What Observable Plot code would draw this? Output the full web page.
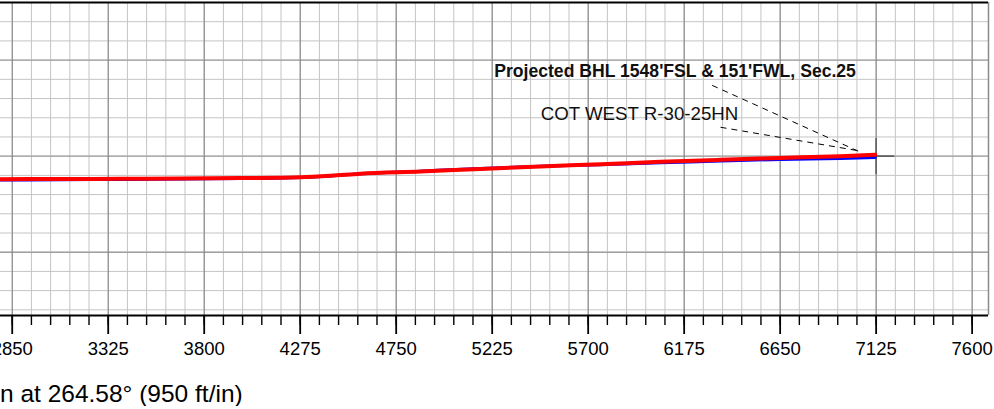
<!DOCTYPE html>
<html>
<head>
<meta charset="utf-8">
<script src="https://cdn.jsdelivr.net/npm/d3@7"></script>
<script src="https://cdn.jsdelivr.net/npm/@observablehq/plot@0.6"></script>
<style>
  html, body { margin: 0; padding: 0; background: #fff; overflow: hidden; }
  #chart svg { display: block; }
  #caption { font-family: "Liberation Sans", Arial, sans-serif; font-size: 24.5px; line-height: 24px; color: #000; margin-top: 12px; margin-left: 0px; white-space: nowrap; }
</style>
</head>
<body>
<div id="chart"></div>
<div id="caption">n at 264.58° (950 ft/in)</div>
<script>
// Vertical section (ft) along the well, and TVD (ft)
const sectionX = [2792, 3089, 3386, 3683, 3980, 4277, 4425, 4573, 4870, 5167, 5464, 5761, 6058, 6355, 6651, 6948, 7121];
const actualTVD = [9614, 9613, 9612, 9610, 9608, 9604, 9597, 9587, 9576, 9563, 9551, 9540, 9528, 9518, 9509, 9500, 9493];
const planTVD   = [9618, 9617, 9615, 9613, 9611, 9606, 9598, 9587, 9574, 9561, 9550, 9542, 9533, 9524, 9516, 9511, 9506];

// Target (projected BHL)
const targetX = [7125];
const targetY = [9500];
const crossHalf = 90;

// Axis ticks
const majorTicks = [2850, 3325, 3800, 4275, 4750, 5225, 5700, 6175, 6650, 7125, 7600];
const xDomain = [2792, 7681];
const yDomain = [8740, 10288];
const minorX = d3.range(2755, 7700, 95);
const minorY = d3.range(8740, 10288, 95);
const majorY = [9025, 9500, 9975];

// Annotations
const labelText = ["Projected BHL 1548'FSL & 151'FWL, Sec.25", "COT WEST R-30-25HN"];
const labelX = [6130, 5954];
const labelY = [9106, 9320];
const labelSize = [17.6, 18.7];
const labelWeight = ["bold", "normal"];
const leaderX1 = [6314, 6355];
const leaderY1 = [9150, 9357];
const leaderX2 = [7047, 7031];
const leaderY2 = [9480, 9472];

const actual = sectionX.map((x, i) => ({x, y: actualTVD[i]}));
const plan = sectionX.map((x, i) => ({x, y: planTVD[i]}));
const labels = labelText.map((t, i) => ({t, x: labelX[i], y: labelY[i], s: labelSize[i], w: labelWeight[i]}));
const leaders = leaderX1.map((x1, i) => ({x1, y1: leaderY1[i], x2: leaderX2[i], y2: leaderY2[i]}));
const cross = [
  {x1: targetX[0], y1: targetY[0] - crossHalf, x2: targetX[0], y2: targetY[0] + crossHalf},
  {x1: targetX[0] - crossHalf, y1: targetY[0], x2: targetX[0] + crossHalf, y2: targetY[0]}
];

const font = "Liberation Sans, Arial, sans-serif";
const inDomain = v => v >= xDomain[0] && v <= xDomain[1];

const plot = Plot.plot({
  width: 994,
  height: 370,
  marginLeft: 0,
  marginRight: 6,
  marginTop: 2,
  marginBottom: 55,
  style: {fontFamily: font, fontSize: "18.5px", background: "#fff", color: "#000"},
  x: {domain: xDomain},
  y: {domain: yDomain, reverse: true, axis: null},
  marks: [
    Plot.ruleX(minorX.filter(inDomain), {stroke: "#c4c4c4", strokeWidth: 1}),
    Plot.ruleY(minorY, {stroke: "#c4c4c4", strokeWidth: 1}),
    Plot.ruleY(majorY, {stroke: "#a0a0a0", strokeWidth: 1.4}),
    Plot.ruleX(majorTicks, {stroke: "#808080", strokeWidth: 1}),
    Plot.ruleX([xDomain[1]], {stroke: "#8a8a8a", strokeWidth: 1.5}),
    Plot.ruleY([yDomain[0]], {stroke: "#000", strokeWidth: 2}),
    Plot.ruleY([yDomain[1]], {stroke: "#000", strokeWidth: 1.8}),
    Plot.axisX(minorX.filter(inDomain), {tickSize: 10, tickFormat: () => "", strokeWidth: 1.4, label: null}),
    Plot.axisX(majorTicks, {tickSize: 19, tickPadding: 7, tickFormat: d => String(d), strokeWidth: 1.8, fontSize: 18.5, fontFamily: font, label: null}),
    Plot.link(cross, {x1: "x1", y1: "y1", x2: "x2", y2: "y2", stroke: "#606060", strokeWidth: 1.6}),
    Plot.line(plan, {x: "x", y: "y", stroke: "#0000ff", strokeWidth: 3, curve: "monotone-x"}),
    Plot.line(actual, {x: "x", y: "y", stroke: "#ff0000", strokeWidth: 4, curve: "monotone-x"}),
    Plot.link(leaders, {x1: "x1", y1: "y1", x2: "x2", y2: "y2", stroke: "#000", strokeWidth: 1, strokeDasharray: "6,5"}),
    Plot.text(labels.filter(d => d.w === "bold"), {x: "x", y: "y", text: "t", textAnchor: "middle", lineAnchor: "bottom", fontSize: 17.6, fontWeight: "bold", fill: "#111", fontFamily: font}),
    Plot.text(labels.filter(d => d.w !== "bold"), {x: "x", y: "y", text: "t", textAnchor: "middle", lineAnchor: "bottom", fontSize: 18.7, fill: "#111", fontFamily: font})
  ]
});
document.getElementById("chart").appendChild(plot);
</script>
</body>
</html>
